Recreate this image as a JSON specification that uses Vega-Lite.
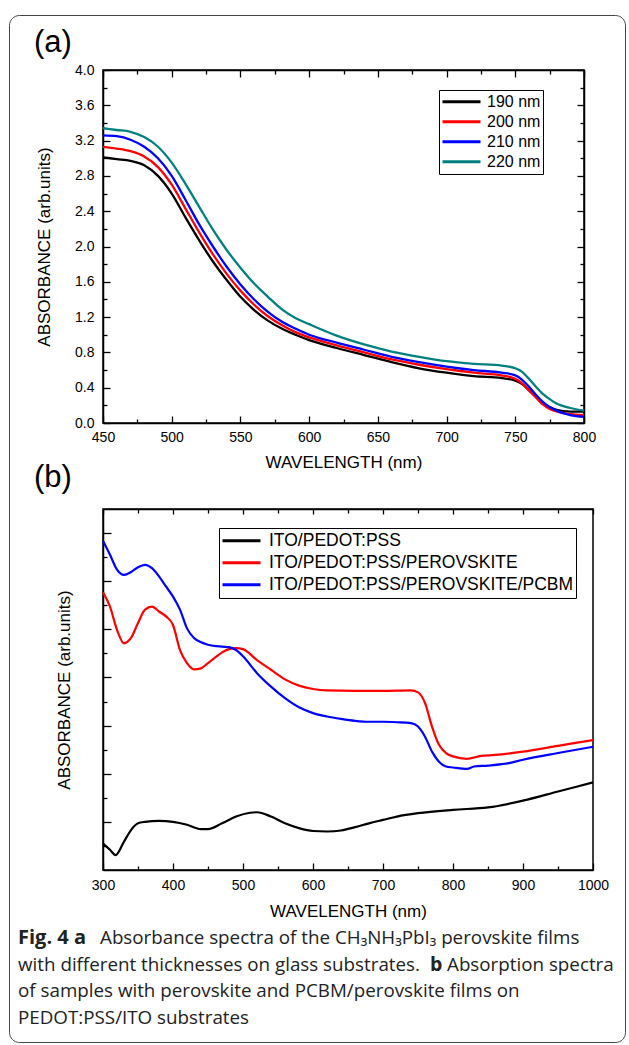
{
  "$schema": "https://vega.github.io/schema/vega-lite/v6.json",
  "padding": {"left": 8, "top": 14, "right": 0, "bottom": 0},
  "background": "white",
  "bounds": "flush",
  "spacing": 86,
  "config": {
    "view": {"stroke": "#000", "strokeWidth": 1.5},
    "axis": {"grid": false, "labelFlush": false, "domainColor": "#000", "domainWidth": 1.5, "tickColor": "#000", "tickWidth": 1.3, "labelColor": "#000", "labelFont": "Liberation Sans", "labelFontSize": 14, "titleFont": "Liberation Sans", "titleFontSize": 17, "titleFontWeight": "normal", "titleColor": "#000"},
    "legend": {"labelFont": "Liberation Sans", "labelColor": "#000", "strokeColor": "#000", "fillColor": "white", "symbolType": "stroke", "symbolSize": 1444, "symbolStrokeWidth": 3, "rowPadding": 0, "labelLimit": 600},
    "title": {"font": "Liberation Sans", "fontWeight": "normal", "color": "#000"}
  },
  "datasets": {
    "a": [
      {"wl":450,"s":"190 nm","v":3.01},{"wl":460,"s":"190 nm","v":2.99},{"wl":470,"s":"190 nm","v":2.97},{"wl":480,"s":"190 nm","v":2.92},{"wl":490,"s":"190 nm","v":2.80},{"wl":500,"s":"190 nm","v":2.60},{"wl":510,"s":"190 nm","v":2.33},{"wl":520,"s":"190 nm","v":2.07},{"wl":530,"s":"190 nm","v":1.83},{"wl":540,"s":"190 nm","v":1.62},{"wl":550,"s":"190 nm","v":1.43},{"wl":560,"s":"190 nm","v":1.28},{"wl":570,"s":"190 nm","v":1.16},{"wl":580,"s":"190 nm","v":1.07},{"wl":590,"s":"190 nm","v":1.00},{"wl":600,"s":"190 nm","v":0.94},{"wl":620,"s":"190 nm","v":0.85},{"wl":640,"s":"190 nm","v":0.77},{"wl":660,"s":"190 nm","v":0.69},{"wl":680,"s":"190 nm","v":0.62},{"wl":700,"s":"190 nm","v":0.57},{"wl":720,"s":"190 nm","v":0.53},{"wl":740,"s":"190 nm","v":0.51},{"wl":750,"s":"190 nm","v":0.48},{"wl":755,"s":"190 nm","v":0.44},{"wl":760,"s":"190 nm","v":0.37},{"wl":765,"s":"190 nm","v":0.30},{"wl":770,"s":"190 nm","v":0.23},{"wl":775,"s":"190 nm","v":0.18},{"wl":780,"s":"190 nm","v":0.15},{"wl":790,"s":"190 nm","v":0.13},{"wl":800,"s":"190 nm","v":0.13},
      {"wl":450,"s":"200 nm","v":3.13},{"wl":460,"s":"200 nm","v":3.11},{"wl":470,"s":"200 nm","v":3.08},{"wl":480,"s":"200 nm","v":3.02},{"wl":490,"s":"200 nm","v":2.90},{"wl":500,"s":"200 nm","v":2.70},{"wl":510,"s":"200 nm","v":2.43},{"wl":520,"s":"200 nm","v":2.16},{"wl":530,"s":"200 nm","v":1.91},{"wl":540,"s":"200 nm","v":1.69},{"wl":550,"s":"200 nm","v":1.50},{"wl":560,"s":"200 nm","v":1.34},{"wl":570,"s":"200 nm","v":1.21},{"wl":580,"s":"200 nm","v":1.11},{"wl":590,"s":"200 nm","v":1.03},{"wl":600,"s":"200 nm","v":0.97},{"wl":620,"s":"200 nm","v":0.88},{"wl":640,"s":"200 nm","v":0.80},{"wl":660,"s":"200 nm","v":0.72},{"wl":680,"s":"200 nm","v":0.66},{"wl":700,"s":"200 nm","v":0.61},{"wl":720,"s":"200 nm","v":0.57},{"wl":740,"s":"200 nm","v":0.54},{"wl":750,"s":"200 nm","v":0.50},{"wl":755,"s":"200 nm","v":0.45},{"wl":760,"s":"200 nm","v":0.37},{"wl":765,"s":"200 nm","v":0.29},{"wl":770,"s":"200 nm","v":0.21},{"wl":775,"s":"200 nm","v":0.16},{"wl":780,"s":"200 nm","v":0.13},{"wl":790,"s":"200 nm","v":0.10},{"wl":800,"s":"200 nm","v":0.09},
      {"wl":450,"s":"210 nm","v":3.26},{"wl":460,"s":"210 nm","v":3.25},{"wl":470,"s":"210 nm","v":3.21},{"wl":480,"s":"210 nm","v":3.13},{"wl":490,"s":"210 nm","v":3.00},{"wl":500,"s":"210 nm","v":2.80},{"wl":510,"s":"210 nm","v":2.53},{"wl":520,"s":"210 nm","v":2.25},{"wl":530,"s":"210 nm","v":2.00},{"wl":540,"s":"210 nm","v":1.77},{"wl":550,"s":"210 nm","v":1.57},{"wl":560,"s":"210 nm","v":1.40},{"wl":570,"s":"210 nm","v":1.26},{"wl":580,"s":"210 nm","v":1.15},{"wl":590,"s":"210 nm","v":1.07},{"wl":600,"s":"210 nm","v":1.00},{"wl":620,"s":"210 nm","v":0.91},{"wl":640,"s":"210 nm","v":0.83},{"wl":660,"s":"210 nm","v":0.75},{"wl":680,"s":"210 nm","v":0.69},{"wl":700,"s":"210 nm","v":0.64},{"wl":720,"s":"210 nm","v":0.60},{"wl":740,"s":"210 nm","v":0.57},{"wl":750,"s":"210 nm","v":0.54},{"wl":755,"s":"210 nm","v":0.49},{"wl":760,"s":"210 nm","v":0.41},{"wl":765,"s":"210 nm","v":0.32},{"wl":770,"s":"210 nm","v":0.24},{"wl":775,"s":"210 nm","v":0.18},{"wl":780,"s":"210 nm","v":0.14},{"wl":790,"s":"210 nm","v":0.09},{"wl":800,"s":"210 nm","v":0.07},
      {"wl":450,"s":"220 nm","v":3.34},{"wl":460,"s":"220 nm","v":3.32},{"wl":470,"s":"220 nm","v":3.30},{"wl":480,"s":"220 nm","v":3.24},{"wl":490,"s":"220 nm","v":3.13},{"wl":500,"s":"220 nm","v":2.95},{"wl":510,"s":"220 nm","v":2.71},{"wl":520,"s":"220 nm","v":2.45},{"wl":530,"s":"220 nm","v":2.19},{"wl":540,"s":"220 nm","v":1.96},{"wl":550,"s":"220 nm","v":1.76},{"wl":560,"s":"220 nm","v":1.58},{"wl":570,"s":"220 nm","v":1.43},{"wl":580,"s":"220 nm","v":1.29},{"wl":590,"s":"220 nm","v":1.19},{"wl":600,"s":"220 nm","v":1.12},{"wl":620,"s":"220 nm","v":0.99},{"wl":640,"s":"220 nm","v":0.89},{"wl":660,"s":"220 nm","v":0.81},{"wl":680,"s":"220 nm","v":0.75},{"wl":700,"s":"220 nm","v":0.70},{"wl":720,"s":"220 nm","v":0.67},{"wl":740,"s":"220 nm","v":0.65},{"wl":750,"s":"220 nm","v":0.62},{"wl":755,"s":"220 nm","v":0.58},{"wl":760,"s":"220 nm","v":0.50},{"wl":765,"s":"220 nm","v":0.41},{"wl":770,"s":"220 nm","v":0.33},{"wl":775,"s":"220 nm","v":0.27},{"wl":780,"s":"220 nm","v":0.22},{"wl":790,"s":"220 nm","v":0.17},{"wl":800,"s":"220 nm","v":0.14}
    ],
    "b": [
      {"wl":300,"s":"ITO/PEDOT:PSS","v":0.55},{"wl":310,"s":"ITO/PEDOT:PSS","v":0.42},{"wl":318,"s":"ITO/PEDOT:PSS","v":0.31},{"wl":330,"s":"ITO/PEDOT:PSS","v":0.59},{"wl":340,"s":"ITO/PEDOT:PSS","v":0.83},{"wl":350,"s":"ITO/PEDOT:PSS","v":0.97},{"wl":360,"s":"ITO/PEDOT:PSS","v":1.00},{"wl":380,"s":"ITO/PEDOT:PSS","v":1.02},{"wl":400,"s":"ITO/PEDOT:PSS","v":1.00},{"wl":420,"s":"ITO/PEDOT:PSS","v":0.94},{"wl":440,"s":"ITO/PEDOT:PSS","v":0.85},{"wl":450,"s":"ITO/PEDOT:PSS","v":0.85},{"wl":470,"s":"ITO/PEDOT:PSS","v":0.97},{"wl":490,"s":"ITO/PEDOT:PSS","v":1.11},{"wl":510,"s":"ITO/PEDOT:PSS","v":1.19},{"wl":520,"s":"ITO/PEDOT:PSS","v":1.20},{"wl":540,"s":"ITO/PEDOT:PSS","v":1.11},{"wl":560,"s":"ITO/PEDOT:PSS","v":0.97},{"wl":580,"s":"ITO/PEDOT:PSS","v":0.87},{"wl":600,"s":"ITO/PEDOT:PSS","v":0.81},{"wl":620,"s":"ITO/PEDOT:PSS","v":0.80},{"wl":640,"s":"ITO/PEDOT:PSS","v":0.82},{"wl":660,"s":"ITO/PEDOT:PSS","v":0.89},{"wl":680,"s":"ITO/PEDOT:PSS","v":0.97},{"wl":700,"s":"ITO/PEDOT:PSS","v":1.04},{"wl":720,"s":"ITO/PEDOT:PSS","v":1.11},{"wl":750,"s":"ITO/PEDOT:PSS","v":1.18},{"wl":800,"s":"ITO/PEDOT:PSS","v":1.25},{"wl":850,"s":"ITO/PEDOT:PSS","v":1.30},{"wl":900,"s":"ITO/PEDOT:PSS","v":1.44},{"wl":950,"s":"ITO/PEDOT:PSS","v":1.63},{"wl":1000,"s":"ITO/PEDOT:PSS","v":1.82},
      {"wl":300,"s":"ITO/PEDOT:PSS/PEROVSKITE","v":5.77},{"wl":310,"s":"ITO/PEDOT:PSS/PEROVSKITE","v":5.47},{"wl":320,"s":"ITO/PEDOT:PSS/PEROVSKITE","v":4.99},{"wl":330,"s":"ITO/PEDOT:PSS/PEROVSKITE","v":4.71},{"wl":340,"s":"ITO/PEDOT:PSS/PEROVSKITE","v":4.82},{"wl":350,"s":"ITO/PEDOT:PSS/PEROVSKITE","v":5.13},{"wl":360,"s":"ITO/PEDOT:PSS/PEROVSKITE","v":5.41},{"wl":370,"s":"ITO/PEDOT:PSS/PEROVSKITE","v":5.47},{"wl":380,"s":"ITO/PEDOT:PSS/PEROVSKITE","v":5.37},{"wl":390,"s":"ITO/PEDOT:PSS/PEROVSKITE","v":5.27},{"wl":400,"s":"ITO/PEDOT:PSS/PEROVSKITE","v":5.09},{"wl":410,"s":"ITO/PEDOT:PSS/PEROVSKITE","v":4.57},{"wl":420,"s":"ITO/PEDOT:PSS/PEROVSKITE","v":4.30},{"wl":430,"s":"ITO/PEDOT:PSS/PEROVSKITE","v":4.17},{"wl":440,"s":"ITO/PEDOT:PSS/PEROVSKITE","v":4.19},{"wl":450,"s":"ITO/PEDOT:PSS/PEROVSKITE","v":4.30},{"wl":460,"s":"ITO/PEDOT:PSS/PEROVSKITE","v":4.41},{"wl":470,"s":"ITO/PEDOT:PSS/PEROVSKITE","v":4.52},{"wl":480,"s":"ITO/PEDOT:PSS/PEROVSKITE","v":4.59},{"wl":490,"s":"ITO/PEDOT:PSS/PEROVSKITE","v":4.61},{"wl":500,"s":"ITO/PEDOT:PSS/PEROVSKITE","v":4.59},{"wl":520,"s":"ITO/PEDOT:PSS/PEROVSKITE","v":4.36},{"wl":540,"s":"ITO/PEDOT:PSS/PEROVSKITE","v":4.16},{"wl":560,"s":"ITO/PEDOT:PSS/PEROVSKITE","v":3.96},{"wl":580,"s":"ITO/PEDOT:PSS/PEROVSKITE","v":3.83},{"wl":600,"s":"ITO/PEDOT:PSS/PEROVSKITE","v":3.76},{"wl":620,"s":"ITO/PEDOT:PSS/PEROVSKITE","v":3.73},{"wl":660,"s":"ITO/PEDOT:PSS/PEROVSKITE","v":3.72},{"wl":700,"s":"ITO/PEDOT:PSS/PEROVSKITE","v":3.72},{"wl":740,"s":"ITO/PEDOT:PSS/PEROVSKITE","v":3.73},{"wl":750,"s":"ITO/PEDOT:PSS/PEROVSKITE","v":3.69},{"wl":760,"s":"ITO/PEDOT:PSS/PEROVSKITE","v":3.47},{"wl":770,"s":"ITO/PEDOT:PSS/PEROVSKITE","v":2.98},{"wl":780,"s":"ITO/PEDOT:PSS/PEROVSKITE","v":2.60},{"wl":790,"s":"ITO/PEDOT:PSS/PEROVSKITE","v":2.43},{"wl":800,"s":"ITO/PEDOT:PSS/PEROVSKITE","v":2.36},{"wl":820,"s":"ITO/PEDOT:PSS/PEROVSKITE","v":2.31},{"wl":840,"s":"ITO/PEDOT:PSS/PEROVSKITE","v":2.37},{"wl":860,"s":"ITO/PEDOT:PSS/PEROVSKITE","v":2.39},{"wl":900,"s":"ITO/PEDOT:PSS/PEROVSKITE","v":2.46},{"wl":950,"s":"ITO/PEDOT:PSS/PEROVSKITE","v":2.58},{"wl":1000,"s":"ITO/PEDOT:PSS/PEROVSKITE","v":2.70},
      {"wl":300,"s":"ITO/PEDOT:PSS/PEROVSKITE/PCBM","v":6.84},{"wl":310,"s":"ITO/PEDOT:PSS/PEROVSKITE/PCBM","v":6.55},{"wl":320,"s":"ITO/PEDOT:PSS/PEROVSKITE/PCBM","v":6.24},{"wl":330,"s":"ITO/PEDOT:PSS/PEROVSKITE/PCBM","v":6.13},{"wl":340,"s":"ITO/PEDOT:PSS/PEROVSKITE/PCBM","v":6.19},{"wl":350,"s":"ITO/PEDOT:PSS/PEROVSKITE/PCBM","v":6.29},{"wl":360,"s":"ITO/PEDOT:PSS/PEROVSKITE/PCBM","v":6.34},{"wl":370,"s":"ITO/PEDOT:PSS/PEROVSKITE/PCBM","v":6.27},{"wl":380,"s":"ITO/PEDOT:PSS/PEROVSKITE/PCBM","v":6.10},{"wl":390,"s":"ITO/PEDOT:PSS/PEROVSKITE/PCBM","v":5.89},{"wl":400,"s":"ITO/PEDOT:PSS/PEROVSKITE/PCBM","v":5.68},{"wl":410,"s":"ITO/PEDOT:PSS/PEROVSKITE/PCBM","v":5.41},{"wl":420,"s":"ITO/PEDOT:PSS/PEROVSKITE/PCBM","v":5.02},{"wl":430,"s":"ITO/PEDOT:PSS/PEROVSKITE/PCBM","v":4.82},{"wl":440,"s":"ITO/PEDOT:PSS/PEROVSKITE/PCBM","v":4.73},{"wl":450,"s":"ITO/PEDOT:PSS/PEROVSKITE/PCBM","v":4.68},{"wl":470,"s":"ITO/PEDOT:PSS/PEROVSKITE/PCBM","v":4.64},{"wl":480,"s":"ITO/PEDOT:PSS/PEROVSKITE/PCBM","v":4.63},{"wl":490,"s":"ITO/PEDOT:PSS/PEROVSKITE/PCBM","v":4.57},{"wl":500,"s":"ITO/PEDOT:PSS/PEROVSKITE/PCBM","v":4.44},{"wl":520,"s":"ITO/PEDOT:PSS/PEROVSKITE/PCBM","v":4.09},{"wl":540,"s":"ITO/PEDOT:PSS/PEROVSKITE/PCBM","v":3.81},{"wl":560,"s":"ITO/PEDOT:PSS/PEROVSKITE/PCBM","v":3.57},{"wl":580,"s":"ITO/PEDOT:PSS/PEROVSKITE/PCBM","v":3.38},{"wl":600,"s":"ITO/PEDOT:PSS/PEROVSKITE/PCBM","v":3.26},{"wl":620,"s":"ITO/PEDOT:PSS/PEROVSKITE/PCBM","v":3.19},{"wl":640,"s":"ITO/PEDOT:PSS/PEROVSKITE/PCBM","v":3.14},{"wl":660,"s":"ITO/PEDOT:PSS/PEROVSKITE/PCBM","v":3.10},{"wl":680,"s":"ITO/PEDOT:PSS/PEROVSKITE/PCBM","v":3.08},{"wl":700,"s":"ITO/PEDOT:PSS/PEROVSKITE/PCBM","v":3.08},{"wl":720,"s":"ITO/PEDOT:PSS/PEROVSKITE/PCBM","v":3.07},{"wl":740,"s":"ITO/PEDOT:PSS/PEROVSKITE/PCBM","v":3.05},{"wl":750,"s":"ITO/PEDOT:PSS/PEROVSKITE/PCBM","v":2.98},{"wl":760,"s":"ITO/PEDOT:PSS/PEROVSKITE/PCBM","v":2.77},{"wl":770,"s":"ITO/PEDOT:PSS/PEROVSKITE/PCBM","v":2.46},{"wl":780,"s":"ITO/PEDOT:PSS/PEROVSKITE/PCBM","v":2.25},{"wl":790,"s":"ITO/PEDOT:PSS/PEROVSKITE/PCBM","v":2.15},{"wl":800,"s":"ITO/PEDOT:PSS/PEROVSKITE/PCBM","v":2.13},{"wl":820,"s":"ITO/PEDOT:PSS/PEROVSKITE/PCBM","v":2.10},{"wl":830,"s":"ITO/PEDOT:PSS/PEROVSKITE/PCBM","v":2.15},{"wl":850,"s":"ITO/PEDOT:PSS/PEROVSKITE/PCBM","v":2.17},{"wl":880,"s":"ITO/PEDOT:PSS/PEROVSKITE/PCBM","v":2.22},{"wl":900,"s":"ITO/PEDOT:PSS/PEROVSKITE/PCBM","v":2.29},{"wl":950,"s":"ITO/PEDOT:PSS/PEROVSKITE/PCBM","v":2.43},{"wl":1000,"s":"ITO/PEDOT:PSS/PEROVSKITE/PCBM","v":2.56}
    ],
    "cap": [
      {"line":1,"seg":"b1","t":"Fig. 4  a"},
      {"line":1,"seg":"r1","t":"Absorbance spectra of the CH₃NH₃PbI₃ perovskite films"},
      {"line":2,"seg":"r2a","t":"with different thicknesses on glass substrates."},
      {"line":2,"seg":"b2","t":"b"},
      {"line":2,"seg":"r2b","t":"Absorption spectra"},
      {"line":3,"seg":"r3","t":"of samples with perovskite and PCBM/perovskite films on"},
      {"line":4,"seg":"r4","t":"PEDOT:PSS/ITO substrates"}
    ]
  },
  "resolve": {"scale": {"x": "independent", "y": "independent", "color": "independent", "fill": "independent"}, "legend": {"color": "independent", "fill": "independent"}},
  "vconcat": [
    {
      "width": 481, "height": 353,
      "title": {"text": "(a)", "anchor": "start", "frame": "group", "dx": -69, "fontSize": 31, "offset": 4},
      "data": {"name": "a"},
      "layer": [
        {
          "mark": {"type": "line", "strokeWidth": 2.3, "interpolate": "monotone"},
          "encoding": {
            "x": {"field": "wl", "type": "quantitative", "scale": {"domain": [450, 800], "nice": false, "zero": false},
                  "axis": {"orient": "bottom", "values": [450,500,550,600,650,700,750,800], "format": "d", "tickSize": -7, "labelPadding": 14, "title": "WAVELENGTH (nm)", "titlePadding": 10}},
            "y": {"field": "v", "type": "quantitative", "scale": {"domain": [0, 4], "nice": false, "zero": false},
                  "axis": {"orient": "left", "values": [0,0.4,0.8,1.2,1.6,2,2.4,2.8,3.2,3.6,4], "format": ".1f", "tickSize": -7, "labelPadding": 16, "title": "ABSORBANCE (arb.units)", "titlePadding": 21}},
            "color": {"field": "s", "type": "nominal", "title": null,
                      "scale": {"domain": ["190 nm","200 nm","210 nm","220 nm"], "range": ["#000000","#ff0000","#0000ff","#008080"]},
                      "legend": {"orient": "none", "legendX": 336, "legendY": 20, "labelFontSize": 16, "clipHeight": 19.5, "padding": 2, "labelOffset": 5}}
          }
        },
        {
          "mark": {"type": "line", "strokeOpacity": 0},
          "encoding": {
            "x": {"field": "wl", "type": "quantitative", "axis": {"orient": "top", "values": [450,500,550,600,650,700,750,800], "labels": false, "tickSize": -7, "title": null}},
            "y": {"field": "v", "type": "quantitative", "axis": {"orient": "right", "values": [0,0.4,0.8,1.2,1.6,2,2.4,2.8,3.2,3.6,4], "labels": false, "tickSize": -7, "title": null}}
          }
        },
        {
          "mark": {"type": "line", "strokeOpacity": 0},
          "encoding": {
            "x": {"field": "wl", "type": "quantitative", "axis": {"orient": "bottom", "values": [475,525,575,625,675,725,775], "labels": false, "domain": false, "tickSize": -4, "title": null}},
            "y": {"field": "v", "type": "quantitative", "axis": {"orient": "left", "values": [0.2,0.6,1,1.4,1.8,2.2,2.6,3,3.4,3.8], "labels": false, "domain": false, "tickSize": -4, "title": null}}
          }
        },
        {
          "mark": {"type": "line", "strokeOpacity": 0},
          "encoding": {
            "x": {"field": "wl", "type": "quantitative", "axis": {"orient": "top", "values": [475,525,575,625,675,725,775], "labels": false, "domain": false, "tickSize": -4, "title": null}},
            "y": {"field": "v", "type": "quantitative", "axis": {"orient": "right", "values": [0.2,0.6,1,1.4,1.8,2.2,2.6,3,3.4,3.8], "labels": false, "domain": false, "tickSize": -4, "title": null}}
          }
        }
      ],
      "resolve": {"axis": {"x": "independent", "y": "independent"}}
    },
    {
      "width": 490, "height": 361,
      "title": {"text": "(b)", "anchor": "start", "frame": "group", "dx": -69, "fontSize": 31, "offset": 14},
      "data": {"name": "b"},
      "layer": [
        {
          "mark": {"type": "line", "strokeWidth": 2.2, "interpolate": "monotone"},
          "encoding": {
            "x": {"field": "wl", "type": "quantitative", "scale": {"domain": [300, 1000], "nice": false, "zero": false},
                  "axis": {"orient": "bottom", "values": [300,400,500,600,700,800,900,1000], "format": "d", "tickSize": -7, "labelPadding": 15, "title": "WAVELENGTH (nm)", "titlePadding": 11}},
            "y": {"field": "v", "type": "quantitative", "scale": {"domain": [0, 7.5], "nice": false, "zero": false},
                  "axis": {"orient": "left", "values": [1,2,3,4,5,6,7], "labels": false, "tickSize": -8, "title": "ABSORBANCE (arb.units)", "titlePadding": 29}},
            "color": {"field": "s", "type": "nominal", "title": null,
                      "scale": {"domain": ["ITO/PEDOT:PSS","ITO/PEDOT:PSS/PEROVSKITE","ITO/PEDOT:PSS/PEROVSKITE/PCBM"], "range": ["#000000","#ff0000","#0000ff"]},
                      "legend": {"orient": "none", "legendX": 116, "legendY": 19, "labelFontSize": 17.5, "clipHeight": 21.5, "padding": 2, "labelOffset": 7}}
          }
        },
        {
          "mark": {"type": "line", "strokeOpacity": 0},
          "encoding": {
            "x": {"field": "wl", "type": "quantitative", "axis": {"orient": "top", "values": [300,400,500,600,700,800,900,1000], "labels": false, "tickSize": -5, "title": null}},
            "y": {"field": "v", "type": "quantitative", "axis": null}
          }
        },
        {
          "mark": {"type": "line", "strokeOpacity": 0},
          "encoding": {
            "x": {"field": "wl", "type": "quantitative", "axis": {"orient": "bottom", "values": [350,450,550,650,750,850,950], "labels": false, "domain": false, "tickSize": -4, "title": null}},
            "y": {"field": "v", "type": "quantitative", "axis": {"orient": "left", "values": [0.5,1.5,2.5,3.5,4.5,5.5,6.5], "labels": false, "domain": false, "tickSize": -4, "title": null}}
          }
        },
        {
          "mark": {"type": "line", "strokeOpacity": 0},
          "encoding": {
            "x": {"field": "wl", "type": "quantitative", "axis": {"orient": "top", "values": [350,450,550,650,750,850,950], "labels": false, "domain": false, "tickSize": -4, "title": null}},
            "y": {"field": "v", "type": "quantitative", "axis": null}
          }
        }
      ],
      "resolve": {"axis": {"x": "independent", "y": "independent"}}
    },
    {
      "width": 100,
      "height": {"step": 26.5},
      "view": {"stroke": null},
      "data": {"name": "cap"},
      "encoding": {
        "x": {"datum": 0, "type": "quantitative", "scale": {"domain": [0, 1]}, "axis": null},
        "y": {"field": "line", "type": "ordinal", "axis": null}
      },
      "layer": [
        {"transform": [{"filter": "datum.seg == 'r2a' || datum.seg == 'r3' || datum.seg == 'r4'"}],
         "mark": {"type": "text", "align": "left", "baseline": "middle", "font": "Open Sans", "fontSize": 18.8, "color": "#222", "dx": -85, "dy": -31},
         "encoding": {"text": {"field": "t"}}},
        {"transform": [{"filter": "datum.seg == 'b1'"}],
         "mark": {"type": "text", "align": "left", "baseline": "middle", "font": "Open Sans", "fontSize": 20, "fontWeight": "bold", "color": "#222", "dx": -85, "dy": -31},
         "encoding": {"text": {"field": "t"}}},
        {"transform": [{"filter": "datum.seg == 'r1'"}],
         "mark": {"type": "text", "align": "left", "baseline": "middle", "font": "Open Sans", "fontSize": 18.8, "color": "#222", "dx": -3, "dy": -31},
         "encoding": {"text": {"field": "t"}}},
        {"transform": [{"filter": "datum.seg == 'b2'"}],
         "mark": {"type": "text", "align": "left", "baseline": "middle", "font": "Open Sans", "fontSize": 19.5, "fontWeight": "bold", "color": "#222", "dx": 327, "dy": -31},
         "encoding": {"text": {"field": "t"}}},
        {"transform": [{"filter": "datum.seg == 'r2b'"}],
         "mark": {"type": "text", "align": "left", "baseline": "middle", "font": "Open Sans", "fontSize": 18.8, "color": "#222", "dx": 344, "dy": -31},
         "encoding": {"text": {"field": "t"}}},
        {"mark": {"type": "point", "opacity": 0},
         "encoding": {"fill": {"field": "line", "type": "quantitative", "scale": {"range": ["transparent", "transparent"]},
           "legend": {"orient": "none", "legendX": -94, "legendY": -941, "direction": "vertical", "gradientLength": 1019, "gradientThickness": 606, "gradientStrokeWidth": 0, "labelOpacity": 0, "labelFontSize": 1, "labelOffset": 0, "title": null, "strokeColor": "#444", "fillColor": "transparent", "cornerRadius": 10, "padding": 4}}}}
      ]
    }
  ]
}
